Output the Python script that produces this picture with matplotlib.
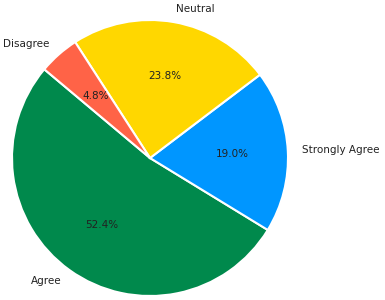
import matplotlib
matplotlib.use("Agg")
import matplotlib.pyplot as plt

labels = ["Agree", "Strongly Agree", "Neutral", "Disagree"]
counts = [11, 4, 5, 1]
colors = ["#00894C", "#0096FF", "#FFD700", "#FF6347"]

W, H = 385, 300
fig = plt.figure(figsize=(W / 100, H / 100), dpi=100)
R = 138.0
cx, cy = 150.0, 300 - 158.0
half = 1.25 * R
ax = fig.add_axes([(cx - half) / W, (cy - half) / H, 2 * half / W, 2 * half / H])
wedges, texts, autotexts = ax.pie(
    counts, labels=labels, colors=colors, autopct="%1.1f%%", startangle=140,
    wedgeprops=dict(edgecolor="white", linewidth=1.5),
    textprops=dict(fontsize=7.5, color="#222222"),
)
for t in texts + autotexts:
    t.set_clip_on(False)
ax.set_xlim(-1.25, 1.25)
ax.set_ylim(-1.25, 1.25)
ax.set_aspect("equal")
fig.savefig("out.png", dpi=100)
